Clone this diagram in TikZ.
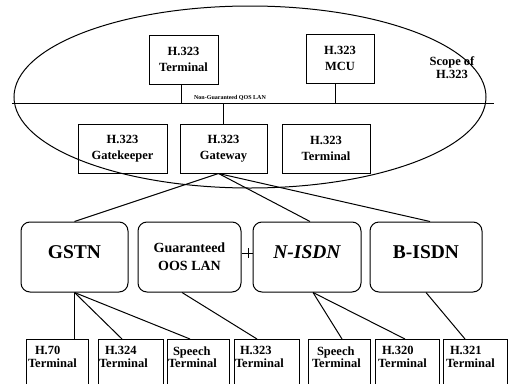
\documentclass[tikz,border=0pt]{standalone}
\usepackage{fontspec}
\setmainfont{Liberation Serif}
\begin{document}
\begin{tikzpicture}[x=1pt,y=-1pt,line width=1pt,
 every node/.style={inner sep=0pt},
 sbox/.style={draw, align=center, minimum height=49pt, font=\bfseries\fontsize{12.5}{15.5}\selectfont},
 bbox/.style={draw, rounded corners=9pt, minimum height=70pt, align=center},
 bigtxt/.style={font=\bfseries\fontsize{19.5}{21}\selectfont, text depth=10pt},
 tbox/.style={draw, minimum height=47pt, anchor=north},
 ttext/.style={align=left, anchor=north west, font=\bfseries\fontsize{12.5}{12.5}\selectfont}
]
\useasboundingbox (0,0) rectangle (511,383);
% scope ellipse
\draw (250,97) ellipse [x radius=236pt, y radius=91pt];
% LAN
\coordinate (lanL) at (12,103);
\coordinate (lanR) at (494,103);
\draw (lanL) -- (lanR);
\node[font=\bfseries\fontsize{6}{7}\selectfont, anchor=base] (lanlbl) at (230,99) {Non-Guaranteed QOS LAN};
% top boxes
\node[sbox, minimum width=69pt] (t1) at (183.5,59.5) {H.323\\Terminal};
\node[sbox, minimum width=68pt] (mcu) at (340,58.5) {H.323\\MCU};
\draw ([xshift=-2pt]t1.south) -- ([xshift=-2pt]t1.south |- lanL);
\draw ([xshift=-5pt]mcu.south) -- ([xshift=-5pt]mcu.south |- lanL);
% scope label
\node[align=center, font=\bfseries\fontsize{12.5}{13}\selectfont] (scope) at (452,68) {Scope of\\H.323};
% middle boxes
\node[sbox, minimum width=89pt] (gk) at (122.5,148.5) {H.323\\Gatekeeper};
\node[sbox, minimum width=87pt] (gw) at (223.5,148.5) {H.323\\Gateway};
\node[sbox, minimum width=88pt] (t2) at (326,148.5) {H.323\\Terminal};
\draw (gw.north) -- (gw.north |- lanL);
% networks
\node[bbox, minimum width=107pt, bigtxt] (gstn) at (74.5,257) {GSTN};
\node[bbox, minimum width=103pt, font=\bfseries\fontsize{14}{18}\selectfont] (gqos) at (189.5,257) {Guaranteed\\OOS LAN};
\node[bbox, minimum width=108pt, bigtxt, font=\bfseries\itshape\fontsize{19.5}{21}\selectfont] (nisdn) at (307,257) {N-ISDN};
\node[bbox, minimum width=112pt, bigtxt] (bisdn) at (426,257) {B-ISDN};
\draw ([xshift=-5pt]gw.south) -- (gstn.north);
\draw ([xshift=-5pt]gw.south) -- ([xshift=3pt]nisdn.north);
\draw ([xshift=-5pt]gw.south) -- ([xshift=4pt]bisdn.north);
\draw ([yshift=4pt]gqos.east) -- ([yshift=4pt]nisdn.west);
\draw ([xshift=-4pt,yshift=9pt]nisdn.west) -- ([xshift=-4pt,yshift=-1pt]nisdn.west);
% terminals
\node[tbox, minimum width=62pt] (b1) at (57,339) {};
\node[tbox, minimum width=65pt] (b2) at (130.5,339) {};
\node[tbox, minimum width=62pt] (b3) at (198,339) {};
\node[tbox, minimum width=65pt] (b4) at (266.5,339) {};
\node[tbox, minimum width=62pt] (b5) at (339,339) {};
\node[tbox, minimum width=64pt] (b6) at (407,339) {};
\node[tbox, minimum width=64pt] (b7) at (475,339) {};
\node[ttext] (b1t) at ([xshift=2pt,yshift=-7pt]b1.north west) {\hspace*{7pt}H.70\\Terminal};
\node[ttext] (b2t) at ([xshift=1pt,yshift=-7pt]b2.north west) {\hspace*{6pt}H.324\\Terminal};
\node[ttext] (b3t) at ([xshift=1pt,yshift=-7pt]b3.north west) {\hspace*{5pt}Speech\\Terminal};
\node[ttext] (b4t) at ([xshift=1pt,yshift=-7pt]b4.north west) {\hspace*{5pt}H.323\\Terminal};
\node[ttext] (b5t) at ([xshift=4pt,yshift=-7pt]b5.north west) {\hspace*{5pt}Speech\\Terminal};
\node[ttext] (b6t) at ([xshift=3pt,yshift=-7pt]b6.north west) {\hspace*{4pt}H.320\\Terminal};
\node[ttext] (b7t) at ([xshift=3pt,yshift=-7pt]b7.north west) {\hspace*{4pt}H.321\\Terminal};
\draw (gstn.south) -- (gstn.south |- b1.north);
\draw (gstn.south) -- ([xshift=-8.5pt]b2.north);
\draw (gstn.south) -- ([xshift=-8pt]b3.north);
\draw ([xshift=-7.5pt]gqos.south) -- ([xshift=-9.5pt]b4.north);
\draw ([xshift=6pt]nisdn.south) -- ([xshift=3pt]b5.north);
\draw ([xshift=6pt]nisdn.south) -- ([xshift=-2pt]b6.north);
\draw (bisdn.south) -- ([xshift=-10pt]b7.north);
\end{tikzpicture}
\end{document}
